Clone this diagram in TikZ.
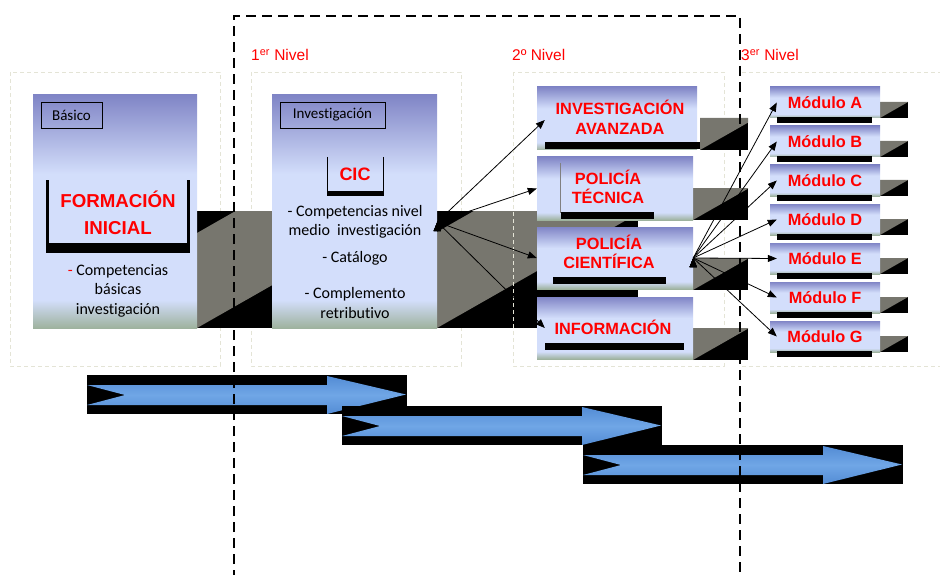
\documentclass[tikz,border=0pt]{standalone}
\usepackage{fontspec}
\setmainfont[Ligatures=NoCommon]{Carlito}
\newfontfamily\arialfont{Liberation Sans}
\usepackage{tikz}
\usetikzlibrary{arrows.meta}

\definecolor{boxtop}{RGB}{128,133,198}
\definecolor{boxlight}{RGB}{211,222,251}
\definecolor{boxfoot}{RGB}{158,178,158}
\definecolor{blockgrey}{RGB}{119,118,110}
\definecolor{arrowblue}{RGB}{83,140,213}
\definecolor{arrowlight}{RGB}{112,166,230}
\definecolor{faint}{RGB}{228,228,214}
\definecolor{titlered}{RGB}{255,0,0}

\pgfdeclareverticalshading{boxshade}{100bp}{color(0bp)=(boxfoot); color(25bp)=(boxfoot); color(31bp)=(boxlight); color(58bp)=(boxlight); color(75bp)=(boxtop); color(100bp)=(boxtop)}

% grey 3d block: x0, y0, x1, y1, cut of the upper left corner
\newcommand{\greyblock}[5]{%
  \fill[black] ({#1},{#2}) rectangle ({#3},{#4});
  \fill[blockgrey] ({#1},{#2+#5}) -- ({#1+#5/0.57},{#2}) -- ({#3},{#2}) -- ({#3},{#4-0.57*(#3-#1)}) -- ({#1},{#4}) -- cycle;}

% blue arrow on its black strip: x0, y0
\newcommand{\stagearrow}[2]{%
  \fill[black] ({#1},{#2}) rectangle ({#1+320},{#2+39});
  \shade[top color=arrowblue, bottom color=arrowblue, middle color=arrowlight]
    ({#1},{#2+10}) -- ({#1+240},{#2+10}) -- ({#1+240},{#2+1}) -- ({#1+319},{#2+19.5})
    -- ({#1+240},{#2+39}) -- ({#1+240},{#2+30}) -- ({#1},{#2+30}) -- ({#1+38},{#2+20}) -- cycle;}

\begin{document}
\begin{tikzpicture}[x=1pt,y=-1pt,
    panel/.style={shade, shading=boxshade, inner sep=0pt},
    tag/.style={draw=black, line width=0.8pt, inner sep=0pt, minimum height=26pt, font=\fontsize{15}{18}\selectfont},
    bodytext/.style={align=center, inner sep=0pt, font=\fontsize{16}{19.5}\selectfont},
    title/.style={align=center, inner sep=0pt, text=titlered, font=\arialfont\bfseries\fontsize{16.3}{19.5}\selectfont},
    levellabel/.style={anchor=west, inner sep=0pt, text=titlered, font=\arialfont\fontsize{15.5}{18}\selectfont},
    modbox/.style={panel, minimum width=110pt, minimum height=31pt, text=titlered, font=\arialfont\bfseries\fontsize{16.3}{19.5}\selectfont},
    fan/.style={draw=black, line width=0.8pt, -{Triangle[length=9pt,width=7pt]}},
    faintbox/.style={draw=faint, line width=0.8pt, dash pattern=on 4pt off 3pt}]
	\useasboundingbox (0,0) rectangle (940,575);

	% faint level frames
	\draw[faintbox] (10,72) rectangle (220,366);
	\draw[faintbox] (251,72) rectangle (461,366);
	\draw[faintbox] (742,72) -- (945,72);
	\draw[faintbox] (742,366) -- (945,366);

	% grey blocks behind the panels
	\greyblock{197}{211}{272}{328}{22}
	\greyblock{437}{211}{638}{328}{21}
	\draw[faintbox] (513,72) rectangle (724,366);

	% basico
	\node[panel, minimum width=164pt, minimum height=233pt] (basico) at (115,211.5) {};
	\node[tag, minimum width=61pt] (tagbasico) at (71.5,115) {Básico};
	\fill[black] (46,180) rectangle (49,253);
	\fill[black] (187,180) rectangle (190,253);
	\fill[black] (46,243) rectangle (190,253);
	\node[title, font=\arialfont\bfseries\fontsize{18.7}{27}\selectfont] (formacion) at (118,212.5) {FORMACIÓN\\INICIAL};
	\node[bodytext] (basdesc) at (118,290.5) {\textcolor{titlered}{-} Competencias\\básicas\\investigación};

	% investigacion
	\node[panel, minimum width=165pt, minimum height=233pt] (cic) at (354.5,211.5) {};
	\node[tag, minimum width=105pt] (taginv) at (332.5,115) {Investigación};
	\draw[black, line width=1pt] (327.5,157) -- (327.5,195);
	\draw[black, line width=1pt] (383.5,157) -- (383.5,195);
	\fill[black] (327,191) rectangle (384,195.5);
	\node[title, font=\arialfont\bfseries\fontsize{18}{22}\selectfont] (cictitle) at (355,174) {CIC};
	\node[bodytext] (cicdesc) at (355,222) {- Competencias nivel\\medio\ \ investigación};
	\node[bodytext] (catalogo) at (355,258) {- Catálogo};
	\node[bodytext] (complemento) at (355,303) {- Complemento\\retributivo};
	\coordinate (cicfan) at ([yshift=-10.5pt]cic.east);

	% 2o nivel
	\greyblock{700}{118}{748}{150}{0}
	\greyblock{693}{188}{748}{220}{0}
	\greyblock{693}{258}{748}{290}{0}
	\greyblock{693}{328}{748}{360}{0}
	\node[panel, minimum width=160pt, minimum height=63pt] (avanzada) at (617,118.5) {};
	\node[panel, minimum width=156pt, minimum height=63pt] (tecnica) at (615,188.5) {};
	\node[panel, minimum width=156pt, minimum height=62pt] (cientifica) at (615,258) {};
	\node[panel, minimum width=156pt, minimum height=62pt] (informacion) at (615,328) {};
	\fill[black] (545,142) rectangle (700,149);
	\fill[black] (561,212) rectangle (654,219);
	\fill[black] (553,277) rectangle (666,284);
	\fill[black] (545,343) rectangle (684,349.5);
	\draw[gray, line width=0.8pt] (560,163) -- (560,213);
	\node[title] (tavanzada) at (620,117.5) {INVESTIGACIÓN\\AVANZADA};
	\node[title] (ttecnica) at (608,187) {POLICÍA\\TÉCNICA};
	\node[title] (tcientifica) at (609,252) {POLICÍA\\CIENTÍFICA};
	\node[title] (tinformacion) at (613,327) {INFORMACIÓN};

	\path[fan] (cicfan) edge ([xshift=8pt,yshift=-1.5pt]avanzada.west);
	\path[fan] (cicfan) edge (tecnica.west);
	\path[fan] (cicfan) edge (cientifica.west);
	\path[fan] (cicfan) edge ([xshift=8pt]informacion.west);

	% 3er nivel
	\foreach \m [count=\i from 0] in {A,B,C,D,E,F,G}{
		\pgfmathsetmacro{\yy}{102.5+39*\i}
		\greyblock{880}{\yy-0.5}{908}{\yy+15.5}{0}
		\node[modbox] (mod\m) at (825,\yy) {Módulo \m};
		\fill[black] (777,\yy+14.5) rectangle (872,\yy+20.5);
		\path[fan] (cientifica.east) edge ([xshift=7pt]mod\m.west);
	}

	% stages
	\stagearrow{87}{375}
	\stagearrow{342}{406}
	\stagearrow{583}{445}

	% levels
	\node[levellabel] (nivel1) at (251,55) {1\textsuperscript{er} Nivel};
	\node[levellabel] (nivel2) at (512,55) {2º Nivel};
	\node[levellabel] (nivel3) at (741,55) {3\textsuperscript{er} Nivel};

	\draw[black, line width=2.5pt, dash pattern=on 10pt off 6pt] (234,580) -- (234,16) -- (740,16) -- (740,580);
\end{tikzpicture}
\end{document}
